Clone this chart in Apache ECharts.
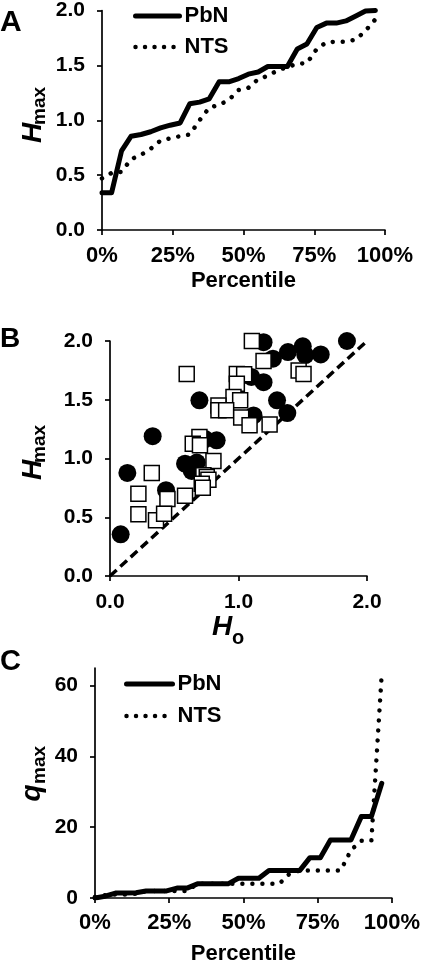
<!DOCTYPE html>
<html>
<head>
<meta charset="utf-8">
<script src="https://cdn.jsdelivr.net/npm/echarts@6/dist/echarts.min.js"></script>
<style>
html,body{margin:0;padding:0;background:#fff;}
#chart{width:423px;height:966px;}
</style>
</head>
<body>
<div id="chart"></div>
<script>
// ---------- Data ----------
const percentiles = [0, 3.4, 6.9, 10.3, 13.8, 17.2, 20.7, 24.1, 27.6, 31.0, 34.5, 37.9, 41.4, 44.8, 48.3, 51.7, 55.2, 58.6, 62.1, 65.5, 69.0, 72.4, 75.9, 79.3, 82.8, 86.2, 89.7, 93.1, 96.6];

// Panel A: Hmax by percentile
const hmaxPbN = [0.34, 0.34, 0.72, 0.855, 0.87, 0.895, 0.93, 0.955, 0.975, 1.15, 1.165, 1.195, 1.35, 1.35, 1.38, 1.42, 1.44, 1.49, 1.49, 1.49, 1.65, 1.695, 1.845, 1.885, 1.885, 1.905, 1.95, 1.995, 2.0];
const hmaxNTS = [0.47, 0.52, 0.53, 0.645, 0.685, 0.74, 0.815, 0.835, 0.855, 0.87, 1.0, 1.115, 1.14, 1.185, 1.275, 1.295, 1.375, 1.405, 1.455, 1.485, 1.515, 1.52, 1.65, 1.71, 1.715, 1.715, 1.735, 1.815, 1.92];

// Panel B: Ho vs Hmax
const hoPbN   = [0.083, 0.135, 0.332, 0.436, 0.584, 0.675, 0.636, 0.696, 0.74, 0.83, 1.117, 1.10, 1.195, 1.195, 1.268, 1.30, 1.38, 1.385, 1.50, 1.52, 1.64, 1.844];
const hmaxBPbN = [0.355, 0.877, 1.19, 0.73, 0.956, 0.965, 0.894, 1.495, 1.165, 1.155, 1.367, 1.694, 1.65, 1.99, 1.85, 1.495, 1.387, 1.906, 1.955, 1.88, 1.886, 2.0];
const hoNTS   = [0.597, 1.104, 1.195, 0.987, 1.044, 0.987, 0.961, 1.013, 0.844, 0.844, 0.904, 1.021, 1.086, 1.242, 1.468, 1.506, 0.696, 0.644, 0.70, 0.805, 0.325, 0.727, 0.753, 0.766, 0.714, 0.722, 0.221, 0.221, 0.447, 0.584, 0.358, 0.421];
const hmaxBNTS = [1.72, 2.0, 1.83, 1.72, 1.716, 1.637, 1.523, 1.495, 1.452, 1.41, 1.41, 1.348, 1.282, 1.29, 1.75, 1.72, 1.183, 1.126, 1.112, 0.979, 0.877, 0.857, 0.843, 0.82, 0.786, 0.752, 0.70, 0.525, 0.655, 0.684, 0.474, 0.53];
const identityLine = [[0, 0], [2, 2]];

// Panel C: qmax by percentile
const qmaxPbN = [0, 0.5, 1.4, 1.4, 1.5, 2.0, 2.0, 2.0, 2.8, 2.8, 4.0, 4.0, 4.0, 4.0, 5.6, 5.6, 5.6, 7.8, 7.8, 7.8, 7.8, 11.4, 11.4, 16.4, 16.4, 16.4, 23.0, 23.0, 32.4];
const qmaxNTS = [0.3, 0.8, 1.0, 1.0, 1.2, 2.0, 2.0, 2.0, 2.0, 2.0, 4.0, 4.0, 4.0, 4.0, 4.0, 4.0, 4.0, 4.0, 4.0, 6.8, 7.8, 7.8, 7.8, 7.8, 7.8, 13.5, 16.2, 16.2, 63.5];

const qTicks = [0, 20, 40, 60];

// ---------- Helpers ----------
const FONT = '"Liberation Sans", Arial, sans-serif';
const zip = (a, b) => a.map((v, i) => [v, b[i]]);

function axisBase(extra) {
  return Object.assign({
    type: 'value',
    axisLine: { show: true, onZero: false, lineStyle: { color: '#000', width: 1.7 } },
    axisTick: { show: true, length: 5, inside: false, lineStyle: { color: '#000', width: 1.7 } },
    splitLine: { show: false },
    axisLabel: { color: '#000', fontSize: 21, fontWeight: 'bold', fontFamily: FONT }
  }, extra);
}

const solidStyle = { color: '#000', width: 5, type: 'solid', join: 'round', cap: 'round' };
const dotStyle = { color: '#000', width: 4.5, type: [0.01, 10], cap: 'round', join: 'round' };

const legendData = [
  { name: 'PbN', itemStyle: { opacity: 0 }, lineStyle: { color: '#000', width: 5, type: 'solid', cap: 'round' } },
  { name: 'NTS', itemStyle: { opacity: 0 }, lineStyle: { color: '#000', width: 4.5, type: [0.01, 9.5], cap: 'round' } }
];
const legendText = { color: '#000', fontSize: 22, fontWeight: 'bold', fontFamily: FONT };
const xLabel = { color: '#000', fontSize: 22, fontWeight: 'bold', fontFamily: FONT, formatter: '{value}%' };
const yLabel = { color: '#000', fontSize: 21, fontWeight: 'bold', fontFamily: FONT, margin: 17 };
const nameStyle = { color: '#000', fontSize: 22, fontWeight: 'bold', fontFamily: FONT };

const option = {
  backgroundColor: '#fff',
  animation: false,
  grid: [
    { left: 102, top: 8, width: 283, height: 222 },
    { left: 110, top: 341, width: 257, height: 235 },
    { left: 95, top: 668, width: 298, height: 235 }
  ],
  xAxis: [
    axisBase({ gridIndex: 0, min: 0, max: 100, interval: 25,
      axisLabel: Object.assign({}, xLabel, { margin: 15 }),
      name: 'Percentile', nameLocation: 'middle', nameGap: 40, nameTextStyle: nameStyle }),
    axisBase({ gridIndex: 1, min: 0, max: 2, interval: 1,
      axisLabel: Object.assign({}, yLabel, { margin: 16, formatter: v => v.toFixed(1) }) }),
    axisBase({ gridIndex: 2, min: 0, max: 100, interval: 25,
      axisLabel: Object.assign({}, xLabel, { margin: 14 }),
      name: 'Percentile', nameLocation: 'middle', nameGap: 45, nameTextStyle: nameStyle })
  ],
  yAxis: [
    axisBase({ gridIndex: 0, min: 0, max: 2, interval: 0.5,
      axisLabel: Object.assign({}, yLabel, { formatter: v => v.toFixed(1) }) }),
    axisBase({ gridIndex: 1, min: 0, max: 2, interval: 0.5,
      axisLabel: Object.assign({}, yLabel, { formatter: v => v.toFixed(1) }) }),
    axisBase({ gridIndex: 2, min: 0, max: 65, interval: 20,
      axisTick: { show: true, length: 5, customValues: qTicks, lineStyle: { color: '#000', width: 1.7 } },
      axisLabel: Object.assign({}, yLabel, { customValues: qTicks }) })
  ],
  legend: [
    { data: legendData, orient: 'vertical', left: 128, top: 0, itemWidth: 44, itemHeight: 14, itemGap: 9,
      textStyle: legendText, selectedMode: false },
    { data: legendData, orient: 'vertical', left: 119, top: 668, itemWidth: 46, itemHeight: 14, itemGap: 10,
      textStyle: legendText, selectedMode: false }
  ],
  series: [
    { name: 'PbN', type: 'line', xAxisIndex: 0, yAxisIndex: 0, data: zip(percentiles, hmaxPbN), symbol: 'none',
      itemStyle: { color: '#000' }, lineStyle: solidStyle, z: 3 },
    { name: 'NTS', type: 'line', xAxisIndex: 0, yAxisIndex: 0, data: zip(percentiles, hmaxNTS), symbol: 'none',
      itemStyle: { color: '#000' }, lineStyle: dotStyle, z: 2 },

    { name: 'Ho = Hmax', type: 'line', xAxisIndex: 1, yAxisIndex: 1, data: identityLine, symbol: 'none',
      itemStyle: { color: '#000' }, lineStyle: { color: '#000', width: 3.5, type: [9, 5] }, z: 1 },
    { name: 'PbN scatter', type: 'scatter', xAxisIndex: 1, yAxisIndex: 1, data: zip(hoPbN, hmaxBPbN), symbol: 'circle', symbolSize: 18,
      itemStyle: { color: '#000', opacity: 1 }, z: 2, clip: false },
    { name: 'NTS scatter', type: 'scatter', xAxisIndex: 1, yAxisIndex: 1, data: zip(hoNTS, hmaxBNTS), symbol: 'rect', symbolSize: 15,
      itemStyle: { color: '#fff', borderColor: '#000', borderWidth: 1.5, opacity: 1 }, z: 3, clip: false },

    { name: 'PbN', type: 'line', xAxisIndex: 2, yAxisIndex: 2, data: zip(percentiles, qmaxPbN), symbol: 'none',
      itemStyle: { color: '#000' }, lineStyle: solidStyle, z: 3 },
    { name: 'NTS', type: 'line', xAxisIndex: 2, yAxisIndex: 2, data: zip(percentiles, qmaxNTS), symbol: 'none',
      itemStyle: { color: '#000' }, lineStyle: dotStyle, z: 2 }
  ],
  graphic: [
    { type: 'text', x: 0, y: 23, style: { text: 'A', font: 'bold 30px ' + FONT, fill: '#000', align: 'left', verticalAlign: 'middle' } },
    { type: 'text', x: 0, y: 339, style: { text: 'B', font: 'bold 28px ' + FONT, fill: '#000', align: 'left', verticalAlign: 'middle' } },
    { type: 'text', x: 0, y: 662, style: { text: 'C', font: 'bold 29px ' + FONT, fill: '#000', align: 'left', verticalAlign: 'middle' } },

    // y titles (rotated)
    { type: 'text', x: 33, y: 133, rotation: Math.PI / 2, style: { text: 'H', font: 'italic bold 28px ' + FONT, fill: '#000', align: 'center', verticalAlign: 'middle' } },
    { type: 'text', x: 40, y: 106, rotation: Math.PI / 2, style: { text: 'max', font: 'bold 19px ' + FONT, fill: '#000', align: 'center', verticalAlign: 'middle' } },
    { type: 'text', x: 33, y: 470, rotation: Math.PI / 2, style: { text: 'H', font: 'italic bold 28px ' + FONT, fill: '#000', align: 'center', verticalAlign: 'middle' } },
    { type: 'text', x: 40, y: 444, rotation: Math.PI / 2, style: { text: 'max', font: 'bold 19px ' + FONT, fill: '#000', align: 'center', verticalAlign: 'middle' } },
    { type: 'text', x: 32, y: 793, rotation: Math.PI / 2, style: { text: 'q', font: 'italic bold 28px ' + FONT, fill: '#000', align: 'center', verticalAlign: 'middle' } },
    { type: 'text', x: 40, y: 765, rotation: Math.PI / 2, style: { text: 'max', font: 'bold 19px ' + FONT, fill: '#000', align: 'center', verticalAlign: 'middle' } },

    // x title panel B
    { type: 'text', x: 222, y: 627, style: { text: 'H', font: 'italic bold 28px ' + FONT, fill: '#000', align: 'center', verticalAlign: 'middle' } },
    { type: 'text', x: 238, y: 638, style: { text: 'o', font: 'bold 20px ' + FONT, fill: '#000', align: 'center', verticalAlign: 'middle' } }
  ]
};

const chart = echarts.init(document.getElementById('chart'), null, { renderer: 'canvas' });
chart.setOption(option);
</script>
</body>
</html>
